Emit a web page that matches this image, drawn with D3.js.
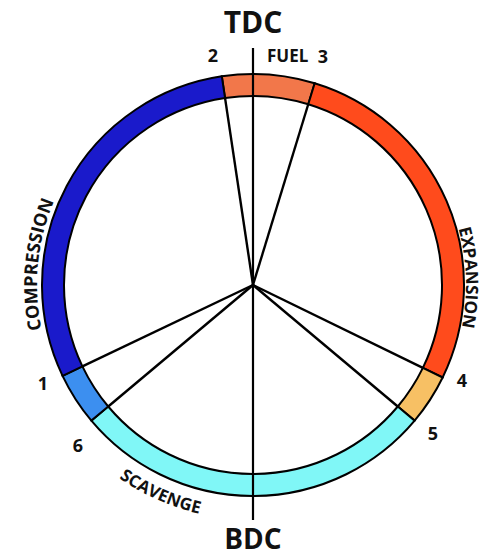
<!DOCTYPE html>
<html>
<head>
<style>
  body {
    margin: 0;
    background-color: #fff;
  }
  text {
    font-family: "Open Sans", sans-serif;
    font-weight: 700;
    fill: #111;
  }
</style>
<script src="https://d3js.org/d3.v7.min.js"></script>
</head>
<body>
<script>
// two stroke timing diagram - crank angle in degrees, clockwise from TDC

const eventNames = ['2', '3', '4', '5', '6', '1'];
const eventAngles = [351.5, 17, 116, 130, 230, 244.5];

const phaseStarts = [351.5, 17, 116, 130, 230, 244.5];
const phaseEnds = [377, 116, 130, 230, 244.5, 351.5];
const phaseColors = ['#f2774a', '#ff4b1c', '#f7c064', '#80f7f7', '#3c8ff0', '#1a1acb'];

const phaseLabels = ['COMPRESSION', 'EXPANSION', 'SCAVENGE'];
const phaseLabelAngles = [275.5, 88, 204];

const width = 484;
const height = 558;
const cx = 253;
const cy = 285;
const rIn = 189;
const rOut = 211;

const svg = d3.select('body')
  .append('svg')
  .attr('width', width)
  .attr('height', height);

const angle = d3.scaleLinear().domain([0, 360]).range([0, 2 * Math.PI]);

const g = svg.append('g').attr('transform', `translate(${cx},${cy})`);

// ring segments
const arc = d3.arc().innerRadius(rIn).outerRadius(rOut);
g.selectAll('path.phase')
  .data(phaseStarts)
  .join('path')
  .attr('class', 'phase')
  .attr('d', (d, i) => arc({ startAngle: angle(d), endAngle: angle(phaseEnds[i]) }))
  .attr('fill', (d, i) => phaseColors[i])
  .attr('stroke', '#000')
  .attr('stroke-width', 2);

// spokes from the hub out to each event
g.selectAll('line.spoke')
  .data(eventAngles)
  .join('line')
  .attr('class', 'spoke')
  .attr('x1', 0)
  .attr('y1', 0)
  .attr('x2', d => rIn * Math.sin(angle(d)))
  .attr('y2', d => -rIn * Math.cos(angle(d)))
  .attr('stroke', '#000')
  .attr('stroke-width', 2.4);

// TDC - BDC line
g.append('line')
  .attr('x1', 0).attr('y1', -237)
  .attr('x2', 0).attr('y2', 235)
  .attr('stroke', '#000')
  .attr('stroke-width', 2.2);

svg.append('text')
  .attr('x', cx).attr('y', 33)
  .attr('text-anchor', 'middle')
  .attr('font-size', 30)
  .text('TDC');

svg.append('text')
  .attr('x', cx).attr('y', 549)
  .attr('text-anchor', 'middle')
  .attr('font-size', 28)
  .text('BDC');

// event numbers
const numberPos = {
  '2': [213, 62],
  '3': [323, 63],
  '4': [462, 387],
  '5': [433, 440],
  '6': [78, 452],
  '1': [43, 390]
};
svg.selectAll('text.event')
  .data(eventNames)
  .join('text')
  .attr('class', 'event')
  .attr('x', d => numberPos[d][0])
  .attr('y', d => numberPos[d][1])
  .attr('text-anchor', 'middle')
  .attr('font-size', 18)
  .text(d => d);

svg.append('text')
  .attr('x', 267).attr('y', 62)
  .attr('font-size', 17)
  .text('FUEL');

// curved phase labels
const labelRadius = [216, 213, 235];
const labelSize = [18, 17, 17];
const defs = svg.append('defs');
phaseLabels.forEach((label, i) => {
  const mid = phaseLabelAngles[i];
  const ccw = label === 'SCAVENGE';
  const p = d3.path();
  const a0 = angle(mid + (ccw ? 45 : -45)) - Math.PI / 2;
  const a1 = angle(mid + (ccw ? -45 : 45)) - Math.PI / 2;
  p.arc(cx, cy, labelRadius[i], a0, a1, ccw);
  defs.append('path').attr('id', 'lp' + i).attr('d', p.toString());
  svg.append('text')
    .attr('font-size', labelSize[i])
    .append('textPath')
    .attr('href', '#lp' + i)
    .attr('startOffset', '50%')
    .attr('text-anchor', 'middle')
    .text(label);
});
</script>
</body>
</html>
